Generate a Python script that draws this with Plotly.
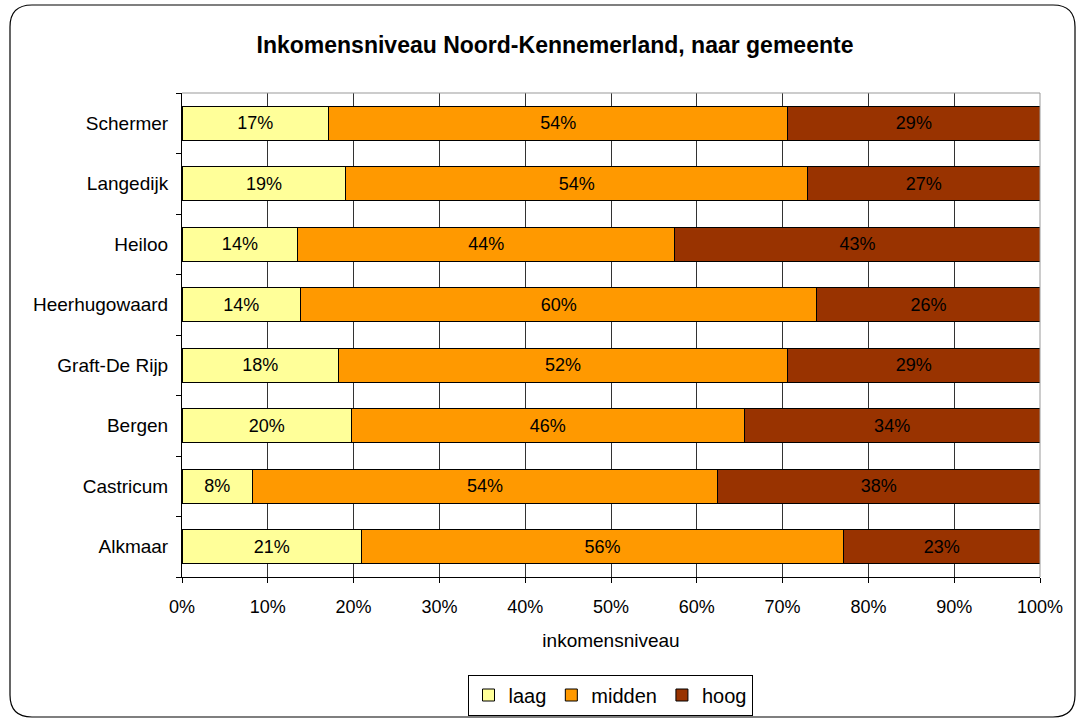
import plotly.graph_objects as go

# ---- data ----
gemeenten = ["Alkmaar", "Castricum", "Bergen", "Graft-De Rijp",
             "Heerhugowaard", "Heiloo", "Langedijk", "Schermer"]
laag = [20.9, 8.2, 19.7, 18.2, 13.8, 13.6, 19.1, 17.1]
midden = [56.2, 54.3, 45.7, 52.3, 60.2, 44.3, 53.8, 53.5]
hoog = [22.9, 37.6, 34.4, 29.4, 26.0, 42.9, 27.1, 29.4]
series_names = ["laag", "midden", "hoog"]
series_colors = ["#FFFF99", "#FF9900", "#993300"]
x_ticks = [0, 10, 20, 30, 40, 50, 60, 70, 80, 90, 100]
x_ticklabels = [f"{t}%" for t in x_ticks]

title = "Inkomensniveau Noord-Kennemerland, naar gemeente"
x_title = "inkomensniveau"

FONT = "Liberation Sans, Arial, sans-serif"
W, H = 1082, 722
L, R, T, B = 182, 42, 93, 145


def lab(v):
    return f"{int(v + 0.5)}%"


fig = go.Figure()
for name, vals, col in zip(series_names, [laag, midden, hoog], series_colors):
    fig.add_trace(go.Bar(
        y=gemeenten, x=vals, name=name, orientation="h",
        marker=dict(color=col, line=dict(color="black", width=1)),
        text=[lab(v) for v in vals], textposition="inside",
        insidetextanchor="middle",
        textfont=dict(family=FONT, size=18, color="black"),
        hoverinfo="skip",
    ))

# pixel -> paper helpers for the decorative frame
pw, ph = W - L - R, H - T - B


def px(x):
    return (x - L) / pw


def py(y):
    return (H - B - y) / ph


x0, x1, y0, y1, r = 10, 1075, 5, 717, 22
path = (f"M {px(x0)},{py(y0 + r)} Q {px(x0)},{py(y0)} {px(x0 + r)},{py(y0)} "
        f"L {px(x1 - r)},{py(y0)} Q {px(x1)},{py(y0)} {px(x1)},{py(y0 + r)} "
        f"L {px(x1)},{py(y1 - r)} Q {px(x1)},{py(y1)} {px(x1 - r)},{py(y1)} "
        f"L {px(x0 + r)},{py(y1)} Q {px(x0)},{py(y1)} {px(x0)},{py(y1 - r)} Z")

fig.update_layout(
    width=W, height=H,
    barmode="stack", barnorm="percent", bargap=0.44,
    paper_bgcolor="white", plot_bgcolor="white",
    margin=dict(l=L, r=R, t=T, b=B),
    font=dict(family=FONT, size=18, color="black"),
    title=dict(text=f"<b>{title}</b>", x=555 / W, xref="container",
               xanchor="center", y=1 - 45 / H, yanchor="middle",
               font=dict(family=FONT, size=23, color="black")),
    xaxis=dict(range=[0, 100], tickvals=x_ticks, ticktext=x_ticklabels,
               showgrid=True, gridcolor="#333", gridwidth=1,
               showline=True, linecolor="black", linewidth=1,
               ticks="outside", ticklen=5, tickcolor="black",
               ticklabelstandoff=8, zeroline=False,
               title=dict(text=x_title, font=dict(size=19), standoff=18),
               tickfont=dict(size=18), fixedrange=True),
    yaxis=dict(categoryorder="array", categoryarray=gemeenten,
               showline=True, linecolor="black", linewidth=1,
               ticks="outside", ticklen=5, tickcolor="black",
               tickson="boundaries", showgrid=False,
               tickfont=dict(size=19), ticklabelstandoff=9, fixedrange=True),
    legend=dict(orientation="h", x=610 / W, xref="container", xanchor="center",
                y=1 - 695 / H, yref="container", yanchor="middle",
                bordercolor="black", borderwidth=1, bgcolor="white",
                font=dict(size=20), traceorder="normal",
                itemwidth=30, tracegroupgap=0),
    shapes=[
        dict(type="line", xref="paper", yref="paper", x0=0, x1=1, y0=1, y1=1,
             line=dict(color="#999", width=1)),
        dict(type="line", xref="paper", yref="paper", x0=1, x1=1, y0=0, y1=1,
             line=dict(color="#999", width=1)),
        dict(type="path", xref="paper", yref="paper", path=path,
             line=dict(color="black", width=1.2), layer="below"),
    ],
)

fig.write_html("out.html", config={"displayModeBar": False},
               post_script="document.body.style.margin='0';")
